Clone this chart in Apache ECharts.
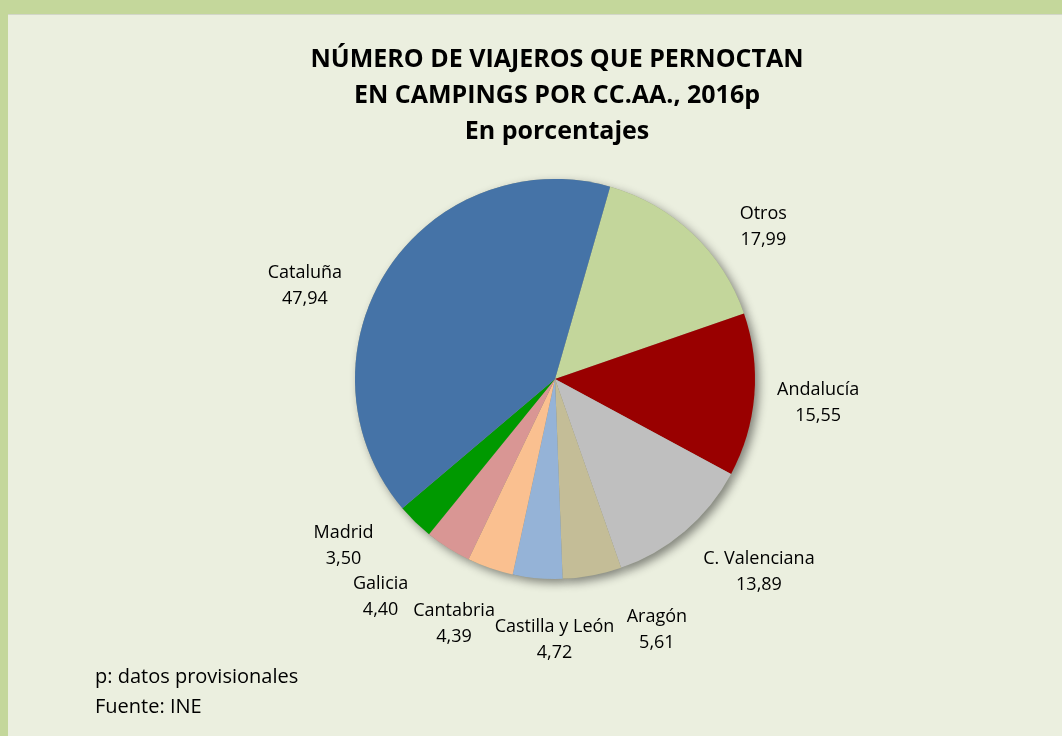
<html>
  <head>
    <meta charset="utf-8" />
    <title>Viajeros en campings</title>
    <script src="https://cdn.jsdelivr.net/npm/echarts@6/dist/echarts.min.js"></script>
    <style>
      html, body { margin: 0; padding: 0; overflow: hidden; background: #c4d79b; }
      #main { position: absolute; left: 8px; top: 14px; width: 1098px; height: 740px;
              background: #ebefdf; border-top: 1px solid #d2d6c8; }
    </style>
  </head>
  <body>
    <div id="main"></div>
    <script type="text/javascript">
      // datos (porcentajes)
      var regiones = ['Otros', 'Andalucía', 'C. Valenciana', 'Aragón', 'Castilla y León',
                      'Cantabria', 'Galicia', 'Madrid', 'Cataluña'];
      var valores = [17.99, 15.55, 13.89, 5.61, 4.72, 4.39, 4.40, 3.50, 47.94];
      var colores = ['#c3d69b', '#990000', '#bfbfbf', '#c4bd97', '#95b3d7',
                     '#fac090', '#d99694', '#009900', '#4573a7'];
      // ajuste de etiquetas (como las coloca Excel)
      var desplaz = [[24, 42], [-4, 2], [30, -11], [52, -12], [23, -6],
                     [-14, -9], [-31, -9], [-24, -25], [-25, 52]];

      var fuente = '"Open Sans", sans-serif';
      var datos = regiones.map(function (r, i) {
        return { name: r, value: valores[i], itemStyle: { color: colores[i] } };
      });

      var myChart = echarts.init(document.getElementById('main'));
      var option = {
        animation: false,
        title: [
          {
            text: 'NÚMERO DE VIAJEROS QUE PERNOCTAN\nEN CAMPINGS POR CC.AA., 2016p\nEn porcentajes',
            left: 'center',
            top: 22,
            textStyle: { fontFamily: fuente, fontWeight: 'bold', fontSize: 25, lineHeight: 36, color: '#000' }
          },
          {
            text: 'p: datos provisionales\nFuente: INE',
            left: 82,
            top: 642,
            textStyle: { fontFamily: fuente, fontWeight: 'normal', fontSize: 20, lineHeight: 30, color: '#000' }
          }
        ],
        series: [
          {
            // sombra bajo la tarta
            type: 'pie',
            center: [547, 364],
            radius: 200,
            startAngle: 74,
            silent: true,
            label: { show: false },
            labelLine: { show: false },
            itemStyle: { color: '#9aa08a', shadowBlur: 10, shadowOffsetX: 4, shadowOffsetY: 4,
                         shadowColor: 'rgba(0,0,0,0.45)' },
            data: valores.map(function (v) { return { value: v }; })
          },
          {
            type: 'pie',
            center: [547, 364],
            radius: 200,
            startAngle: 74,
            silent: true,
            label: { show: false },
            labelLine: { show: false },
            data: datos
          },
          {
            // anillo invisible para las etiquetas
            type: 'pie',
            center: [547, 364],
            radius: [255, 275],
            startAngle: 74,
            silent: true,
            itemStyle: { color: 'rgba(0,0,0,0)' },
            label: {
              show: true,
              position: 'inside',
              color: '#000',
              fontFamily: fuente,
              fontSize: 18,
              lineHeight: 26,
              formatter: function (p) {
                return p.name + '\n' + p.value.toFixed(2).replace('.', ',');
              }
            },
            labelLine: { show: false },
            labelLayout: function (params) {
              var d = desplaz[params.dataIndex];
              return { dx: d[0], dy: d[1] };
            },
            data: regiones.map(function (r, i) { return { name: r, value: valores[i] }; })
          }
        ]
      };
      myChart.setOption(option);
    </script>
  </body>
</html>
